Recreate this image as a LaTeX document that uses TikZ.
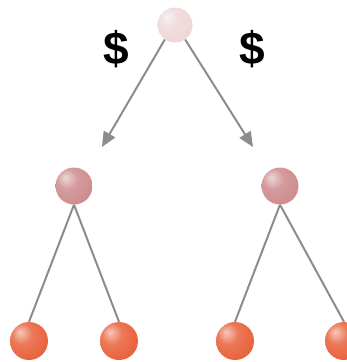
\documentclass[tikz,border=0pt]{standalone}
\usepackage{fontspec}
\setmainfont{Liberation Sans}
\usetikzlibrary{arrows.meta,backgrounds}
\makeatletter
\pgfdeclareradialshading[tikz@ball]{softball}{\pgfqpoint{-12bp}{12bp}}{%
 color(0bp)=(tikz@ball!35!white);
 color(14bp)=(tikz@ball!85!white);
 color(34bp)=(tikz@ball);
 color(52bp)=(tikz@ball!85!black);
 color(68bp)=(tikz@ball!70!black)}
\makeatother
\begin{document}
\begin{tikzpicture}[x=1pt,y=-1pt,
  ballnode/.style={circle,inner sep=0pt,minimum size=#1},
  topball/.style={ballnode=35pt,ball color={rgb,255:red,238;green,214;blue,216},shading=softball},
  midball/.style={ballnode=37pt,ball color={rgb,255:red,205;green,138;blue,140},shading=softball},
  leafball/.style={ballnode=38pt,ball color={rgb,255:red,232;green,96;blue,58},shading=softball},
  edge/.style={draw={rgb,255:red,140;green,140;blue,140},line width=2pt},
  arr/.style={edge,-{Triangle[length=15pt,width=13pt]}},
  dollar/.style={font=\bfseries\fontsize{46}{50}\selectfont,inner sep=0pt}]
\useasboundingbox (0,0) rectangle (347,362);
\node[topball] (top) at (175,25) {};
\node[dollar] (d1) at (116,49) {\$};
\node[dollar] (d2) at (252,49) {\$};
\node[midball] (m1) at (74,186) {};
\node[midball] (m2) at (280,186) {};
\node[leafball] (l1) at (29,341) {};
\node[leafball] (l2) at (119,341) {};
\node[leafball] (l3) at (235,341) {};
\node[leafball] (l4) at (344,341) {};
\coordinate (al) at (102,147);
\coordinate (ar) at (253,147);
\begin{pgfonlayer}{background}
\draw[arr] (top.-125) -- (al);
\draw[arr] (top.-55) -- (ar);
\draw[edge] (m1.south) -- (l1.north);
\draw[edge] (m1.south) -- (l2.north);
\draw[edge] (m2.south) -- (l3.north);
\draw[edge] (m2.south) -- (l4.north);
\end{pgfonlayer}
\end{tikzpicture}
\end{document}
